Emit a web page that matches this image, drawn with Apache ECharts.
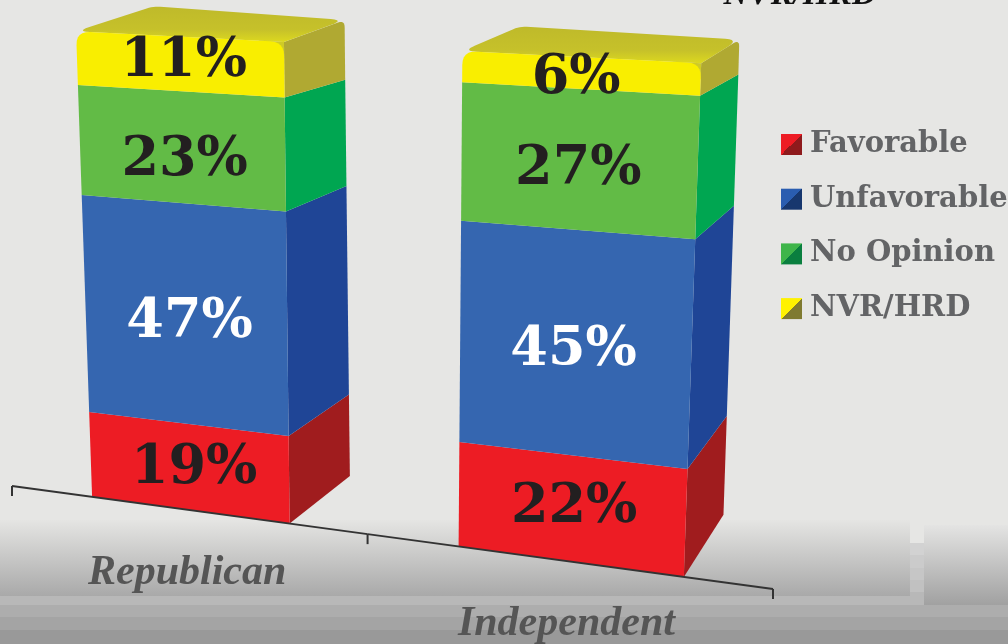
<!DOCTYPE html>
<html>
<head>
<meta charset="utf-8">
<title>Favorable by party</title>
<script src="https://cdn.jsdelivr.net/npm/echarts@6/dist/echarts.min.js"></script>
<style>
  html, body { margin: 0; padding: 0; background: #e6e6e4; overflow: hidden; }
  #main { width: 1008px; height: 644px; }
</style>
</head>
<body>
<div id="main"></div>
<script>
  // chart values
  const categories = ["Republican", "Independent"];
  const favorable = [19, 22];
  const unfavorable = [47, 45];
  const noOpinion = [23, 27];
  const nvrHrd = [11, 6];
  const seriesNames = ["Favorable", "Unfavorable", "No Opinion", "NVR/HRD"];
  const seriesValues = [favorable, unfavorable, noOpinion, nvrHrd];

  const WIDTH = 1008, HEIGHT = 644;
  const frontColors = ["#ed1c24", "#3566b0", "#62bb46", "#f9ee00"];
  const sideColors = ["#a01c1e", "#1f4596", "#00a651", "#b0a932"];
  const labelColors = ["#231f20", "#ffffff", "#231f20", "#231f20"];
  const legendLight = ["#ed1c24", "#2a5db0", "#3fb54a", "#fff200"];
  const legendDark = ["#8e1a1c", "#17376e", "#0a7f3f", "#7f7a30"];

  // the flat grid is warped on to this quad: the picture is a tilted 3D view
  // order: base left, base right, top right, top left
  const QUAD = [[12, 486], [773, 589], [796, 68], [-8, 27]];
  const VANISH = [1150, -155]; // bars recede towards this point
  const BAR_WIDTH = 0.555; // share of the category band
  const BAR_SHIFT = 0.014; // bars sit a bit right of the band centre
  const CORNER = 14;
  // label shift from segment middle, [series][category] -> [dx, dy]
  const LABEL_NUDGE = [
    [[6, 2], [4, -1]],
    [[5, 8], [0, 7]],
    [[4, 14], [1, 10]],
    [[5, -2], [-3, 6]]
  ];

  const warp = (function () {
    const [[x0, y0], [x1, y1], [x2, y2], [x3, y3]] = QUAD;
    const dx1 = x1 - x2, dx2 = x3 - x2, sx = x0 - x1 + x2 - x3;
    const dy1 = y1 - y2, dy2 = y3 - y2, sy = y0 - y1 + y2 - y3;
    const den = dx1 * dy2 - dx2 * dy1;
    const g = (sx * dy2 - dx2 * sy) / den;
    const h = (dx1 * sy - sx * dy1) / den;
    const a = x1 - x0 + g * x1, b = x3 - x0 + h * x3;
    const d = y1 - y0 + g * y1, e = y3 - y0 + h * y3;
    return function (p) {
      const u = p[0] / WIDTH, v = (HEIGHT - p[1]) / HEIGHT;
      const w = g * u + h * v + 1;
      return [(a * u + b * v + x0) / w, (d * u + e * v + y0) / w];
    };
  })();

  function recede(p, t) {
    return [p[0] + t * (VANISH[0] - p[0]), p[1] + t * (VANISH[1] - p[1])];
  }

  // polygon with some corners rounded, radii given per point
  function rounded(points, radii) {
    const out = [];
    points.forEach(function (p, i) {
      const r = radii[i];
      if (!r) { out.push(p); return; }
      const prev = points[(i + points.length - 1) % points.length];
      const next = points[(i + 1) % points.length];
      const lenA = Math.hypot(prev[0] - p[0], prev[1] - p[1]);
      const lenB = Math.hypot(next[0] - p[0], next[1] - p[1]);
      const a = [p[0] + (prev[0] - p[0]) * r / lenA, p[1] + (prev[1] - p[1]) * r / lenA];
      const b = [p[0] + (next[0] - p[0]) * r / lenB, p[1] + (next[1] - p[1]) * r / lenB];
      for (let k = 0; k <= 6; k++) {
        const t = k / 6;
        out.push([
          (1 - t) * (1 - t) * a[0] + 2 * t * (1 - t) * p[0] + t * t * b[0],
          (1 - t) * (1 - t) * a[1] + 2 * t * (1 - t) * p[1] + t * t * b[1]
        ]);
      }
    });
    return out;
  }

  function poly(points, fill) {
    return { type: "polygon", shape: { points: points }, style: { fill: fill } };
  }

  function renderSegment(params, api) {
    const s = params.seriesIndex;
    const cat = api.value(0), base = api.value(1), top = api.value(2);
    const band = api.size([1, 0])[0];
    const cx = api.coord([cat, 0])[0] + band * BAR_SHIFT;
    const half = band * BAR_WIDTH / 2;
    const yBase = api.coord([cat, base])[1], yTop = api.coord([cat, top])[1];
    const bl = warp([cx - half, yBase]), br = warp([cx + half, yBase]);
    const tr = warp([cx + half, yTop]), tl = warp([cx - half, yTop]);
    const depth = 0.07 + cat * 0.015;
    const bb = recede(br, depth), tb = recede(tr, depth);
    const isTop = s === seriesValues.length - 1;
    const children = [];

    if (isTop) {
      // top face: back edge runs along the front edge, lifted a bit
      const liftR = 8 - cat * 3, liftL = 12 - cat * 5;
      const backR = [tb[0], tb[1] - liftR];
      const backL = [tb[0] + (tl[0] - tr[0]) * 0.92, tb[1] + (tl[1] - tr[1]) * 0.92 - liftL];
      children.push(poly(rounded([br, bb, backR, tr], [0, 0, CORNER / 2, 0]), sideColors[s]));
      children.push(poly(rounded([tl, backL, backR, tr], [CORNER, CORNER / 2, CORNER, 0]), new echarts.graphic.LinearGradient(0, 0, 0, 1, [
        { offset: 0, color: "#bfba2a" },
        { offset: 0.65, color: "#c6c12a" },
        { offset: 1, color: "#dcd81f" }
      ])));
      // patch under the rounded front corner so no background shows there
      children.push(poly([
        tr,
        [tr[0] + (tl[0] - tr[0]) * 0.12, tr[1] + (tl[1] - tr[1]) * 0.12],
        [tr[0] + (br[0] - tr[0]) * 0.5, tr[1] + (br[1] - tr[1]) * 0.5]
      ], "#cfcb26"));
    } else {
      children.push(poly([br, bb, tb, tr], sideColors[s]));
    }
    children.push(poly(rounded([bl, br, tr, tl], isTop ? [0, 0, CORNER, CORNER] : [0, 0, 0, 0]), frontColors[s]));

    const mid = warp([cx, (yBase + yTop) / 2]);
    children.push({
      type: "text",
      style: {
        text: api.value(3) + "%",
        x: mid[0] + LABEL_NUDGE[s][cat][0],
        y: mid[1] + LABEL_NUDGE[s][cat][1],
        font: 'bold 54px "DejaVu Serif"',
        fill: labelColors[s],
        align: "center",
        verticalAlign: "middle"
      }
    });
    return { type: "group", children: children };
  }

  function renderAxis(params, api) {
    const cat = api.value(0);
    const band = api.size([1, 0])[0];
    const cx = api.coord([cat, 0])[0];
    const y0 = api.coord([cat, 0])[1];
    const left = warp([cx - band / 2, y0]), right = warp([cx + band / 2, y0]), mid = warp([cx, y0]);
    const lineStyle = { stroke: "#333333", lineWidth: 2, fill: null };
    const children = [
      { type: "line", shape: { x1: left[0], y1: left[1], x2: right[0], y2: right[1] }, style: lineStyle },
      { type: "line", shape: { x1: right[0], y1: right[1], x2: right[0], y2: right[1] + 10 }, style: lineStyle },
      {
        type: "text",
        style: {
          text: categories[cat],
          x: mid[0] + 3,
          y: mid[1] + 64,
          font: 'italic bold 42px "Liberation Serif"',
          fill: "#555555",
          align: "center",
          verticalAlign: "middle"
        }
      }
    ];
    if (cat === 0) {
      children.push({ type: "line", shape: { x1: left[0], y1: left[1], x2: left[0], y2: left[1] + 10 }, style: lineStyle });
    }
    return { type: "group", children: children };
  }

  function bandRect(x, y, w, h, fill) {
    return { type: "rect", z: -10, silent: true, shape: { x: x, y: y, width: w, height: h }, style: { fill: fill } };
  }
  function fade(from, to) {
    return new echarts.graphic.LinearGradient(0, 0, 0, 1, [
      { offset: 0, color: from },
      { offset: 1, color: to }
    ]);
  }

  const myChart = echarts.init(document.getElementById("main"));
  const series = seriesNames.map(function (name, s) {
    return {
      name: name,
      type: "custom",
      renderItem: renderSegment,
      clip: false,
      itemStyle: {
        color: new echarts.graphic.LinearGradient(0, 0, 1, 1, [
          { offset: 0, color: legendLight[s] },
          { offset: 0.5, color: legendLight[s] },
          { offset: 0.5, color: legendDark[s] },
          { offset: 1, color: legendDark[s] }
        ])
      },
      data: categories.map(function (c, i) {
        let base = 0;
        for (let k = 0; k < s; k++) base += seriesValues[k][i];
        return [i, base, base + seriesValues[s][i], seriesValues[s][i]];
      })
    };
  });
  series.push({
    type: "custom",
    name: "axis",
    renderItem: renderAxis,
    clip: false,
    data: categories.map(function (c, i) { return [i, 0]; })
  });

  const option = {
    animation: false,
    backgroundColor: "#e6e6e4",
    grid: { left: 0, top: 0, width: WIDTH, height: HEIGHT },
    xAxis: { type: "category", data: categories, show: false },
    yAxis: { type: "value", min: 0, max: 100, show: false },
    legend: {
      data: seriesNames,
      orient: "vertical",
      left: 781,
      top: 130,
      padding: 0,
      itemWidth: 21,
      itemHeight: 21,
      itemGap: 25.7,
      selectedMode: false,
      icon: "rect",
      textStyle: {
        fontFamily: "DejaVu Serif",
        fontWeight: "bold",
        fontSize: 29,
        lineHeight: 21,
        color: "#636466",
        padding: [5, 0, 0, 3]
      }
    },
    graphic: [
      bandRect(0, 520, 910, 76, fade("#e5e5e3", "#a9a9a9")),
      bandRect(910, 543, 14, 12, "#d2d2d2"),
      bandRect(910, 555, 14, 13, "#cbcbcb"),
      bandRect(910, 568, 14, 12, "#c6c6c6"),
      bandRect(910, 580, 14, 12, "#c1c1c1"),
      bandRect(910, 592, 14, 14, "#b8b8b8"),
      bandRect(924, 525, 84, 81, fade("#e4e4e3", "#a0a0a0")),
      bandRect(924, 606, 84, 1, "#d6d6d6"),
      bandRect(0, 596, 924, 9, "#b8b8b8"),
      bandRect(924, 607, 84, 1, "#adadad"),
      bandRect(0, 605, 1008, 12, "#adadad"),
      bandRect(0, 617, 1008, 13, "#a4a4a4"),
      bandRect(0, 630, 1008, 14, "#999999"),
      {
        type: "text",
        silent: true,
        style: {
          text: "NVR/HRD",
          x: 800,
          y: 12,
          font: 'italic bold 34px "Liberation Serif"',
          fill: "#111111",
          align: "center",
          verticalAlign: "bottom"
        }
      }
    ],
    series: series
  };
  myChart.setOption(option);
</script>
</body>
</html>
